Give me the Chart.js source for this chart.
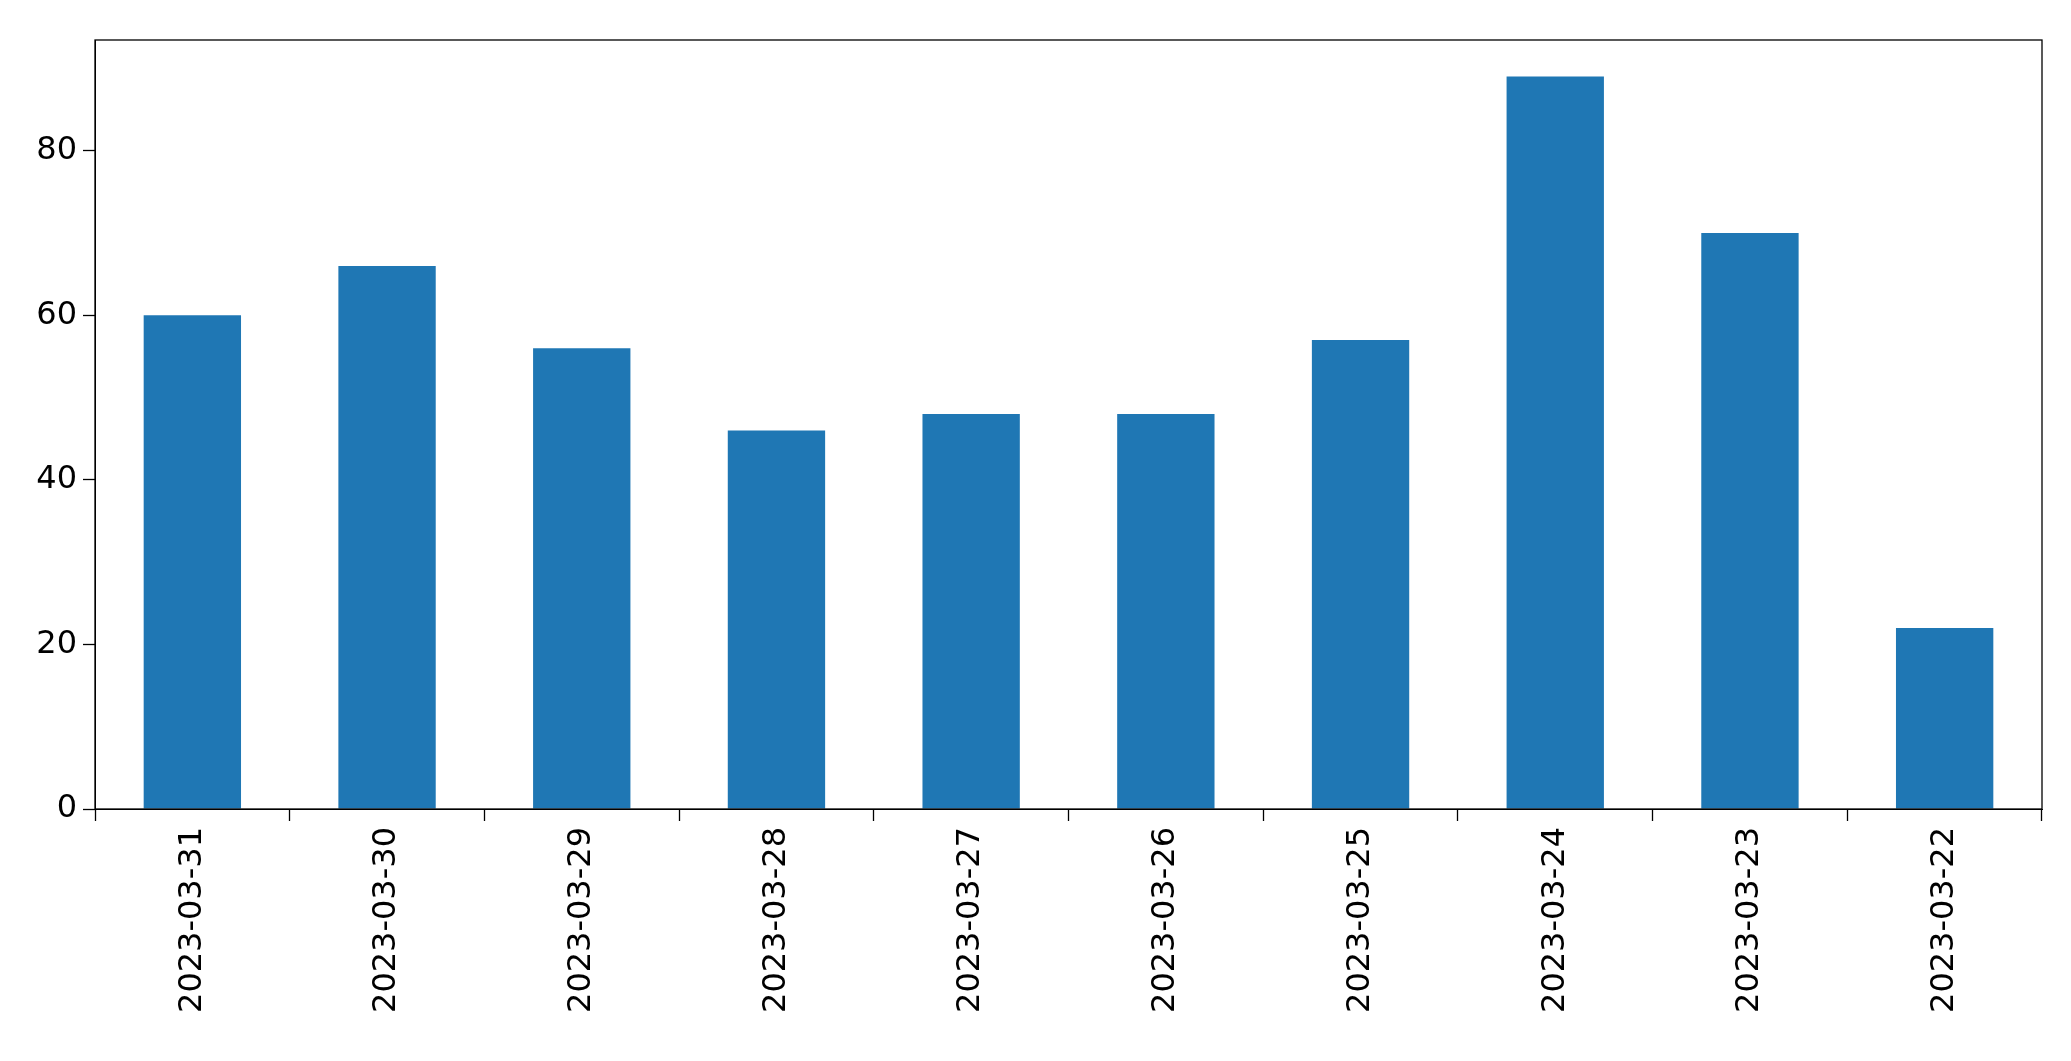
<!DOCTYPE html>
<html>
<head>
<meta charset="utf-8">
<script src="https://cdn.jsdelivr.net/npm/chart.js@4/dist/chart.umd.min.js"></script>
<style>
  html, body { margin: 0; padding: 0; background: #fff; }
  #wrap { width: 2071px; height: 1061px; position: relative; }
</style>
</head>
<body>
<div id="wrap"><canvas id="chart"></canvas></div>
<script>
const dates = ["2023-03-31", "2023-03-30", "2023-03-29", "2023-03-28", "2023-03-27",
  "2023-03-26", "2023-03-25", "2023-03-24", "2023-03-23", "2023-03-22"];
const counts = [60, 66, 56, 46, 48, 48, 57, 89, 70, 22];
const yTicks = [0, 20, 40, 60, 80];

// box around the plot area, like matplotlib's spines
const frame = {
  id: "frame",
  afterDraw(chart) {
    const { ctx, chartArea: a } = chart;
    ctx.save();
    ctx.strokeStyle = "#000";
    ctx.lineWidth = 1.3;
    ctx.strokeRect(a.left, a.top, a.right - a.left, a.bottom - a.top);
    ctx.restore();
  },
};

new Chart(document.getElementById("chart"), {
  type: "bar",
  data: {
    labels: dates,
    datasets: [{
      data: counts,
      backgroundColor: "#1f77b4",
      borderWidth: 0,
      barPercentage: 0.5,
      categoryPercentage: 1,
    }],
  },
  options: {
    responsive: true,
    maintainAspectRatio: false,
    animation: false,
    layout: { padding: { top: 40, right: 29, left: 0, bottom: 0 } },
    plugins: { legend: { display: false }, tooltip: { enabled: false } },
    scales: {
      x: {
        grid: { display: true, drawOnChartArea: false, tickLength: 12, tickColor: "#000", tickWidth: 1.3 },
        border: { display: true, color: "#000" },
        ticks: {
          color: "#000",
          font: { family: "DejaVu Sans", size: 32 },
          minRotation: 90,
          maxRotation: 90,
          padding: 6,
        },
        afterFit: (scale) => { scale.height = 252; },
      },
      y: {
        min: 0,
        max: 93.45,
        afterBuildTicks: (scale) => { scale.ticks = yTicks.map((v) => ({ value: v })); },
        grid: { display: true, drawOnChartArea: false, tickLength: 12, tickColor: "#000", tickWidth: 1.3 },
        border: { display: true, color: "#000" },
        ticks: {
          color: "#000",
          font: { family: "DejaVu Sans", size: 32 },
          padding: 6,
        },
        afterFit: (scale) => { scale.width = 95; },
      },
    },
  },
  plugins: [frame],
});
</script>
</body>
</html>
